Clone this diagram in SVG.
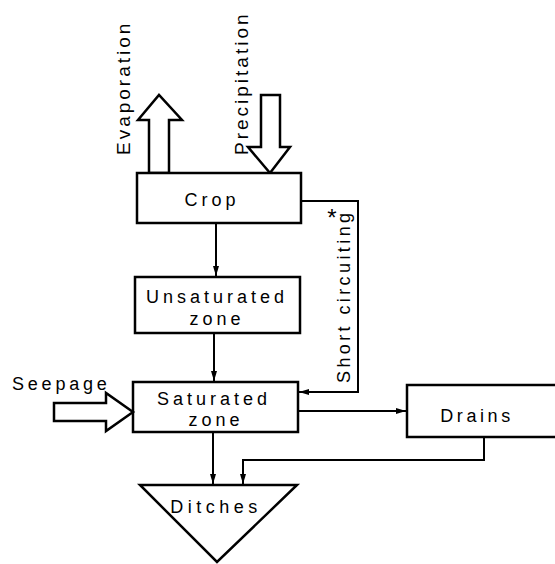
<svg xmlns="http://www.w3.org/2000/svg" width="555" height="564" viewBox="0 0 555 564">
<style>
.box{fill:#fff;stroke:#000;stroke-width:2.5}
.big{fill:#fff;stroke:#000;stroke-width:2.5;stroke-linejoin:miter}
.ln{fill:none;stroke:#000;stroke-width:2}
text{font-family:"Liberation Sans",Arial,sans-serif;font-size:18px;fill:#000;letter-spacing:4px}
.m{text-anchor:middle}
.r{font-size:19px;letter-spacing:3px}
</style>
<defs>
<marker id="ah" viewBox="0 0 10 10" refX="10" refY="5" markerWidth="5" markerHeight="5" markerUnits="userSpaceOnUse" orient="auto" overflow="visible">
<path d="M0,0 L10,5 L0,10 z" fill="#000" transform="scale(1.8,1)" />
</marker>
<marker id="a" viewBox="0 0 10 6" refX="10" refY="3" markerWidth="10" markerHeight="6" markerUnits="userSpaceOnUse" orient="auto">
<path d="M0,0 L10,3 L0,6 z" fill="#000"/>
</marker>
</defs>
<g id="connectors">
<line class="ln" x1="216" y1="223" x2="216" y2="276" marker-end="url(#a)"/>
<line class="ln" x1="214" y1="333" x2="214" y2="381" marker-end="url(#a)"/>
<polyline class="ln" points="301,201 358,201 358,392 299,392" marker-end="url(#a)"/>
<line class="ln" x1="298" y1="411" x2="406" y2="411" marker-end="url(#a)"/>
<line class="ln" x1="213" y1="432" x2="213" y2="484" marker-end="url(#a)"/>
<polyline class="ln" points="484,437 484,460 243,460 243,484" marker-end="url(#a)"/>
</g>
<g id="evaporation">
<polygon class="big" points="149,173 149,120 138,120 159,95 182,120 169,120 169,173"/>
<text class="r" transform="translate(130,155) rotate(-90)">Evaporation</text>
</g>
<g id="precipitation">
<polygon class="big" points="261,95 280,95 280,147 290,147 270,173 248,147 261,147"/>
<text class="r" transform="translate(248,155) rotate(-90)">Precipitation</text>
</g>
<g id="crop">
<rect class="box" x="137" y="173" width="164" height="50"/>
<text class="m" x="212" y="206">Crop</text>
</g>
<g id="unsaturated">
<rect class="box" x="135" y="277" width="165" height="56"/>
<text class="m" x="217" y="303">Unsaturated</text>
<text class="m" x="217" y="325">zone</text>
</g>
<g id="short-circuiting">
<text transform="translate(350,383) rotate(-90)" style="letter-spacing:3.4px">Short circuiting</text>
<text class="m" x="332" y="226" style="font-size:24px;letter-spacing:0">*</text>
</g>
<g id="saturated">
<rect class="box" x="133" y="382" width="165" height="50"/>
<text class="m" x="214" y="405">Saturated</text>
<text class="m" x="216" y="426">zone</text>
</g>
<g id="seepage">
<polygon class="big" points="54,403 106,403 106,393 133,412 106,431 106,421 54,421"/>
<text x="12" y="390" style="letter-spacing:3.8px">Seepage</text>
</g>
<g id="drains">
<path class="box" d="M560,385 L407,385 L407,437 L560,437"/>
<text class="m" x="477" y="422" style="letter-spacing:3.6px">Drains</text>
</g>
<g id="ditches">
<polygon class="big" points="140,485 297,485 217,562"/>
<text class="m" x="216" y="513" style="letter-spacing:4.5px">Ditches</text>
</g>
</svg>
